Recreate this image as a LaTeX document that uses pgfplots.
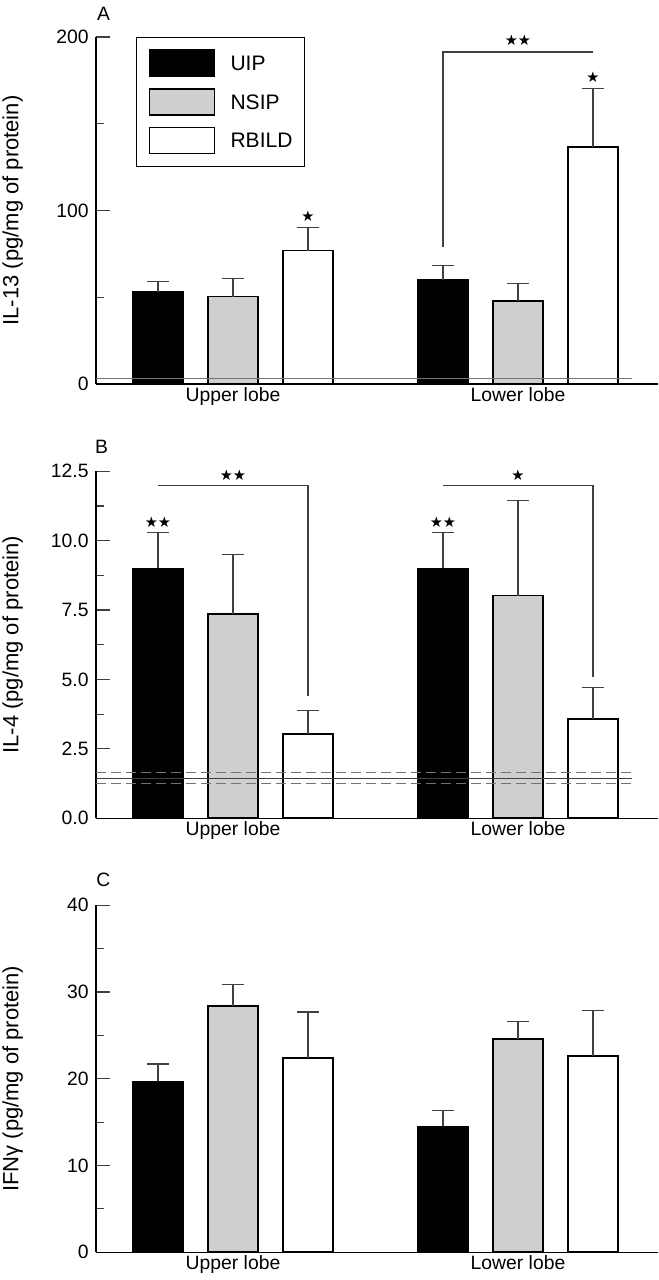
\documentclass[border=0pt]{standalone}
\usepackage{fontspec}
\setmainfont{Liberation Sans}
\newfontfamily\sym{DejaVu Sans}
\usepackage{pgfplots}
\pgfplotsset{compat=1.18}
\definecolor{nsip}{gray}{0.81}
\definecolor{ln}{gray}{0.25}
\tikzset{
 star/.style={font=\sym\fontsize{11}{11}\selectfont, inner sep=0pt},
 plab/.style={font=\fontsize{14.5}{16}\selectfont, inner sep=0pt},
}
\pgfplotsset{
 panel/.style={
  scale only axis, width=421.5pt, height=260.25pt, anchor=south west,
  xmin=-0.48070, xmax=1.49123, ymin=0,
  axis x line*=bottom, axis y line*=left,
  axis line style={line width=1.1pt, -},
  xtick={0,1}, xticklabels={Upper lobe,Lower lobe}, xtick style={draw=none},
  tick align=inside, major tick length=10.5pt, minor tick length=6pt,
  ytick style={line width=0.9pt, color=ln},
  tick label style={font=\fontsize{14.5}{16}\selectfont},
  /pgf/number format/assume math mode=true,
  yticklabel style={xshift=-2pt},
  xticklabel style={yshift=1pt},
  ylabel style={at={(axis description cs:-0.1383,0.5)}, anchor=base, font=\fontsize{16.5}{19}\selectfont},
  clip=false,
 },
 bars/.style={ybar, bar width=0.17544, bar shift=0pt, draw=black, line width=1.3pt,
  error bars/y dir=plus, error bars/y explicit,
  error bars/error bar style={line width=0.9pt, color=ln},
  error bars/error mark options={rotate=90, mark size=8.25pt, line width=0.9pt, color=ln},
  legend image code/.code={\draw[##1] (0pt,-9.75pt) rectangle (48.75pt,9.75pt);}},
 brk/.style={color=ln, line width=0.9pt},
 refl/.style={forget plot, color=black!55, line width=0.9pt},
}
\begin{document}
\begin{tikzpicture}
\useasboundingbox (0,0) rectangle (493.5pt,960pt);
% Panel A
\begin{axis}[panel, at={(72pt,672pt)}, ymax=200, ytick={0,100,200}, minor ytick={50,150},
  ylabel={IL-13 (pg/mg of protein)},
  legend style={at={(axis description cs:0.0712,1.0)}, anchor=north west, draw=black, line width=0.75pt,
    inner xsep=9pt, inner ysep=9pt, row sep=8.1pt, font=\fontsize{15.75}{18}\selectfont,
    nodes={inner sep=0pt, text depth=0pt},
    /tikz/every odd column/.append style={column sep=11.5pt}},
  legend cell align=left]
\addplot[bars, fill=black] coordinates {(-0.26316,53.3) +- (0,5.7) (0.73684,60.0) +- (0,8.3)};
\addlegendentry{UIP}
\addplot[bars, fill=nsip] coordinates {(0,50.4) +- (0,10.6) (1,47.9) +- (0,10.0)};
\addlegendentry{NSIP}
\addplot[bars, fill=white] coordinates {(0.26316,76.9) +- (0,13.1) (1.26316,136.6) +- (0,33.7)};
\addlegendentry{RBILD}
\addplot[refl] coordinates {(-0.4807,3) (1.399,3)};
\addplot[brk, forget plot] coordinates {(0.73684,78.7) (0.73684,191.4) (1.26316,191.4)};
\node[star] at (axis cs:0.26316,96.6) {★};
\node[star] at (axis cs:1.26316,176.8) {★};
\node[star] at (axis cs:1.0,198) {★★};
\node[plab] at (axis description cs:0.0133,1.0677) {A};
\end{axis}
% Panel B
\begin{axis}[panel, at={(72pt,346.3pt)}, ymax=12.5, ytick={0,2.5,5,7.5,10,12.5}, minor ytick={1.25,3.75,6.25,8.75,11.25},
  yticklabel style={/pgf/number format/.cd, fixed, fixed zerofill, precision=1},
  ylabel={IL-4 (pg/mg of protein)}]
\addplot[bars, fill=black] coordinates {(-0.26316,9.0) +- (0,1.28) (0.73684,9.0) +- (0,1.28)};
\addplot[bars, fill=nsip] coordinates {(0,7.37) +- (0,2.13) (1,8.02) +- (0,3.43)};
\addplot[bars, fill=white] coordinates {(0.26316,3.04) +- (0,0.84) (1.26316,3.57) +- (0,1.14)};
\addplot[refl, color=black!75] coordinates {(-0.4807,1.44) (1.399,1.44)};
\addplot[refl, dash pattern=on 7.5pt off 3.75pt] coordinates {(-0.4807,1.65) (1.399,1.65)};
\addplot[refl, dash pattern=on 7.5pt off 3.75pt] coordinates {(-0.4807,1.26) (1.399,1.26)};
\addplot[brk, forget plot] coordinates {(-0.26316,12.0) (0.26316,12.0) (0.26316,4.39)};
\addplot[brk, forget plot] coordinates {(0.73684,12.0) (1.26316,12.0) (1.26316,5.1)};
\node[star] at (axis cs:-0.26316,10.66) {★★};
\node[star] at (axis cs:0.73684,10.66) {★★};
\node[star] at (axis cs:0,12.34) {★★};
\node[star] at (axis cs:1.0,12.34) {★};
\node[plab] at (axis description cs:0.0098,1.0697) {B};
\end{axis}
% Panel C
\begin{axis}[panel, at={(72pt,20.8pt)}, ymax=40, ytick={0,10,20,30,40}, minor ytick={5,15,25,35},
  ylabel={IFNγ (pg/mg of protein)}]
\addplot[bars, fill=black] coordinates {(-0.26316,19.7) +- (0,2.0) (0.73684,14.5) +- (0,1.8)};
\addplot[bars, fill=nsip] coordinates {(0,28.4) +- (0,2.5) (1,24.6) +- (0,2.0)};
\addplot[bars, fill=white] coordinates {(0.26316,22.4) +- (0,5.3) (1.26316,22.6) +- (0,5.3)};
\node[plab] at (axis description cs:0.0133,1.072) {C};
\end{axis}
\end{tikzpicture}
\end{document}
